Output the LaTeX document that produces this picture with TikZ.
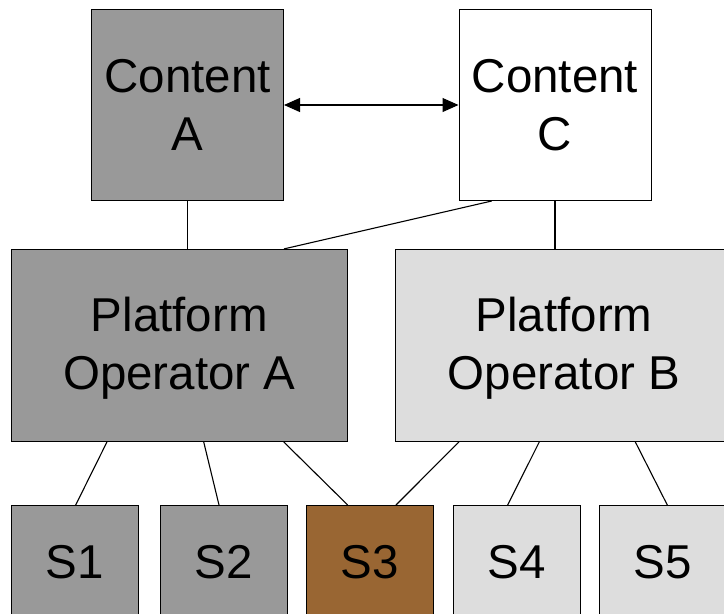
\documentclass[tikz,border=0pt]{standalone}
\usepackage{fontspec}
\setmainfont{Liberation Sans}
\usetikzlibrary{arrows.meta}

\definecolor{darkbox}{HTML}{999999}
\definecolor{lightbox}{HTML}{DDDDDD}
\definecolor{brownbox}{HTML}{996633}

\tikzset{
  box/.style={draw=black, line width=1pt, rectangle, inner sep=0pt, align=center,
    font=\fontsize{47.5}{58}\selectfont},
  bigbox/.style={box, minimum width=192pt, minimum height=191pt},
  platbox/.style={box, minimum width=336pt, minimum height=192pt, text depth=4pt},
  sbox/.style={box, minimum width=127pt, minimum height=113pt},
  link/.style={line width=1.1pt},
}

\begin{document}
\begin{tikzpicture}[x=1pt,y=-1pt]
  \useasboundingbox (0,0) rectangle (724,614);
  \clip (0,0) rectangle (724,614);

  % content providers
  \node[bigbox, fill=darkbox] (ca) at (187.5,105) {Content\\A};
  \node[bigbox, fill=white]   (cc) at (555,105)   {Content\\C};

  % platform operators
  \node[platbox, fill=darkbox]  (pa) at (179.3,345.4) {Platform\\Operator A};
  \node[platbox, fill=lightbox, minimum width=337pt] (pb) at (564,345.4) {Platform\\Operator B};

  % services
  \node[sbox, fill=darkbox]  (s1) at (75,562)  {S1};
  \node[sbox, fill=darkbox]  (s2) at (224,562) {S2};
  \node[sbox, fill=brownbox] (s3) at (370,562) {S3};
  \node[sbox, fill=lightbox] (s4) at (517,562) {S4};
  \node[sbox, fill=lightbox] (s5) at (663,562) {S5};

  % content links
  \draw[link, {Triangle[length=16pt,width=14pt]}-{Triangle[length=16pt,width=14pt]}] (ca.east) -- (cc.west);
  \draw[link] (ca.south) -- (ca.south |- pa.north);
  \draw[link] ([xshift=-63.3pt]cc.south) -- ([xshift=104.7pt]pa.north);
  \draw[link] (cc.south) -- (cc.south |- pb.north);

  % operator to service links
  \draw[link] ([xshift=-72.3pt]pa.south) -- ([xshift=0.7pt]s1.north);
  \draw[link] ([xshift=24.4pt]pa.south)  -- ([xshift=-5pt]s2.north);
  \draw[link] ([xshift=104.4pt]pa.south) -- ([xshift=-22.3pt]s3.north);
  \draw[link] ([xshift=-105pt]pb.south)  -- ([xshift=26pt]s3.north);
  \draw[link] ([xshift=-24.7pt]pb.south) -- ([xshift=-9.3pt]s4.north);
  \draw[link] ([xshift=71.3pt]pb.south)  -- ([xshift=4.3pt]s5.north);
\end{tikzpicture}
\end{document}
